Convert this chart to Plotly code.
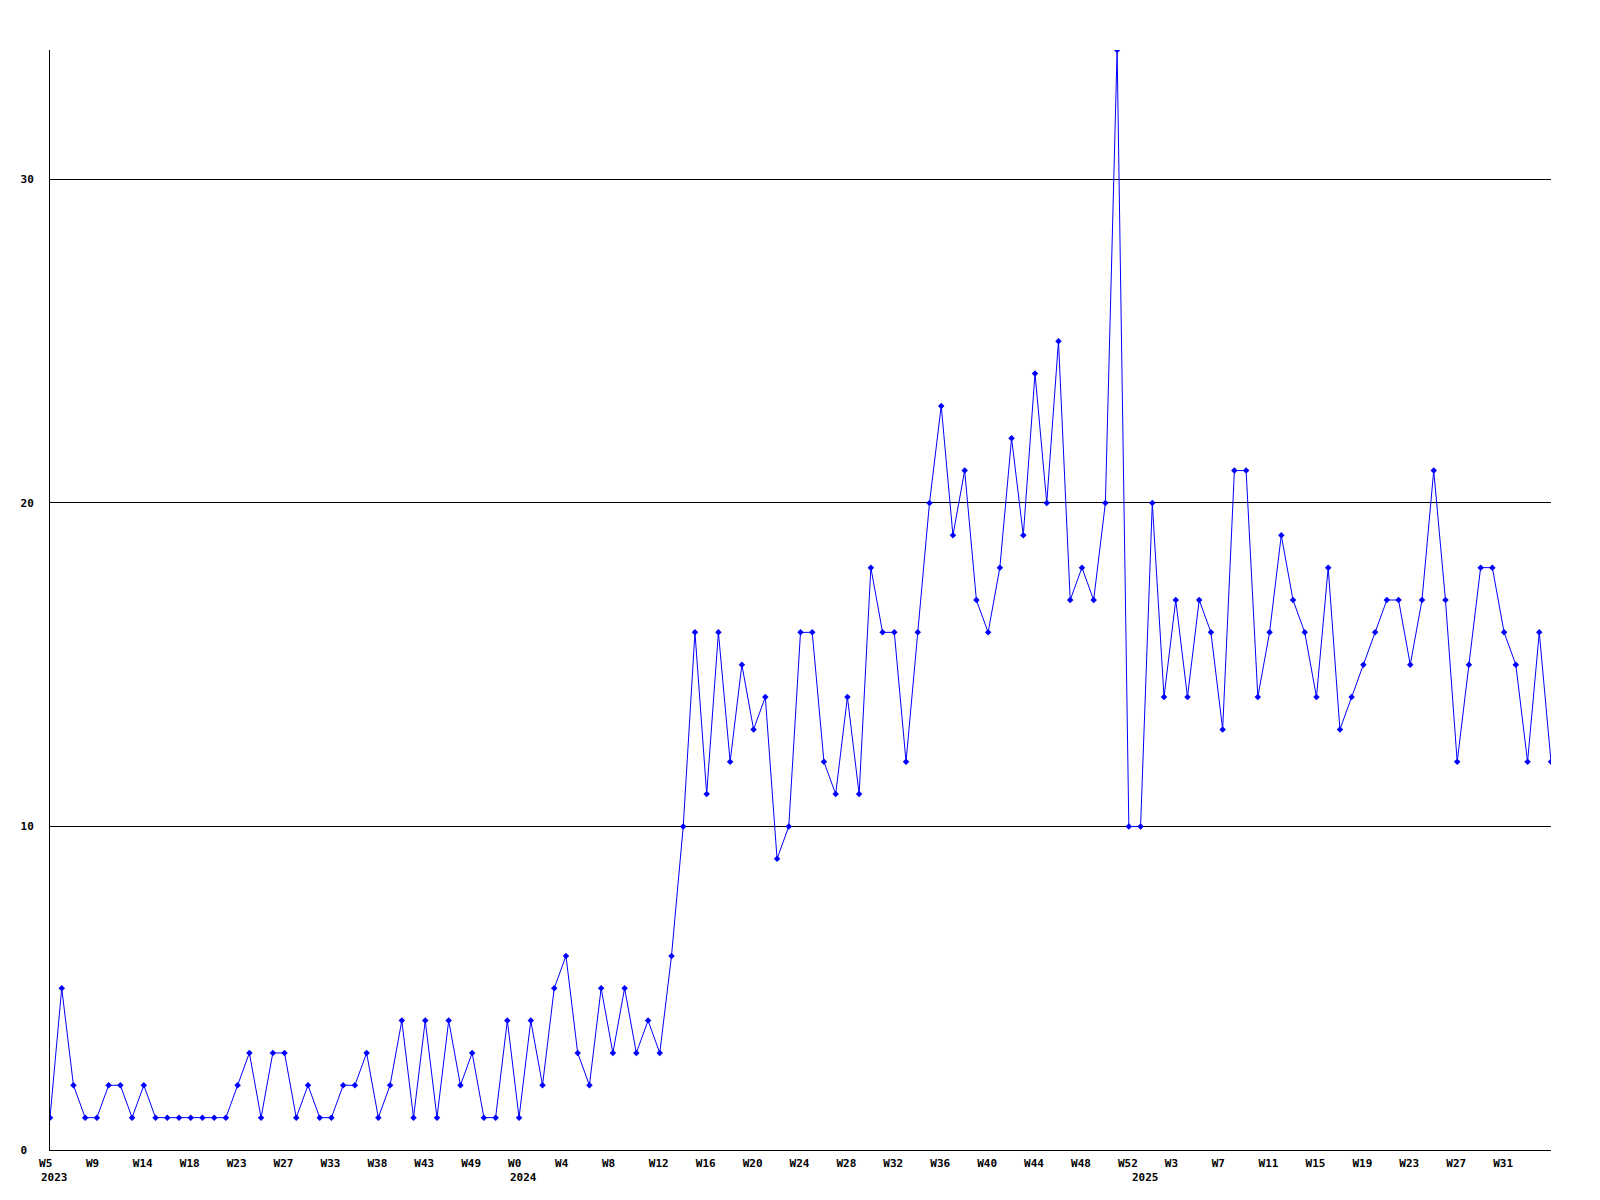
import plotly.graph_objects as go

# weekly counts, one per week position (W5 2023 ... W35 2025)
values = [
    1, 5, 2, 1, 1, 2, 2, 1, 2, 1,
    1, 1, 1, 1, 1, 1, 2, 3, 1, 3,
    3, 1, 2, 1, 1, 2, 2, 3, 1, 2,
    4, 1, 4, 1, 4, 2, 3, 1, 1, 4,
    1, 4, 2, 5, 6, 3, 2, 5, 3, 5,
    3, 4, 3, 6, 10, 16, 11, 16, 12, 15,
    13, 14, 9, 10, 16, 16, 12, 11, 14, 11,
    18, 16, 16, 12, 16, 20, 23, 19, 21, 17,
    16, 18, 22, 19, 24, 20, 25, 17, 18, 17,
    20, 34, 10, 10, 20, 14, 17, 14, 17, 16,
    13, 21, 21, 14, 16, 19, 17, 16, 14, 18,
    13, 14, 15, 16, 17, 17, 15, 17, 21, 17,
    12, 15, 18, 18, 16, 15, 12, 16, 12,
]
positions = list(range(len(values)))

tick_positions = [0, 4, 8, 12, 16, 20, 24, 28, 32, 36, 40, 44, 48, 52, 56, 60,
                  64, 68, 72, 76, 80, 84, 88, 92, 96, 100, 104, 108, 112, 116, 120, 124]
tick_labels = ["W5", "W9", "W14", "W18", "W23", "W27", "W33", "W38", "W43", "W49",
               "W0", "W4", "W8", "W12", "W16", "W20", "W24", "W28", "W32", "W36",
               "W40", "W44", "W48", "W52", "W3", "W7", "W11", "W15", "W19", "W23",
               "W27", "W31"]
year_positions = [0, 40, 93]
year_labels = ["2023", "2024", "2025"]

y_ticks = [0, 10, 20, 30]

NB = "\u00a0"
FONT = dict(family="DejaVu Sans Mono", size=11, color="black", weight="bold")

fig = go.Figure()
fig.add_trace(go.Scatter(
    x=positions, y=values, mode="lines+markers",
    line=dict(color="#0000ff", width=1),
    marker=dict(symbol="diamond", size=5, color="#0000ff"),
    hoverinfo="x+y", showlegend=False,
))

for xp, yl in zip(year_positions, year_labels):
    fig.add_annotation(x=xp, y=0, xref="x", yref="paper", text=yl,
                       showarrow=False, xanchor="left", yanchor="middle",
                       xshift=-11, yshift=-27, font=FONT)

fig.update_layout(
    width=1600, height=1200,
    margin=dict(l=50, r=49, t=50, b=50),
    paper_bgcolor="white", plot_bgcolor="white",
    font=FONT,
    xaxis=dict(
        range=[0, 128], tickmode="array", tickvals=tick_positions,
        ticktext=[t + NB * (3 - len(t)) for t in tick_labels],
        showgrid=False, zeroline=False, showline=True, linecolor="black",
        linewidth=1, ticks="", tickangle=0, ticklabelshift=-1,
        ticklabelstandoff=3, tickfont=FONT,
    ),
    yaxis=dict(
        range=[0, 34], tickmode="array", tickvals=y_ticks,
        ticktext=[str(v) + NB * (2 - len(str(v))) for v in y_ticks],
        showgrid=True, gridcolor="black", gridwidth=1, zeroline=False,
        showline=True, linecolor="black", linewidth=1, ticks="",
        ticklabelstandoff=13, tickfont=FONT,
    ),
)

fig.write_html("out.html", config={"displayModeBar": False},
               post_script="document.body.style.margin='0';")
